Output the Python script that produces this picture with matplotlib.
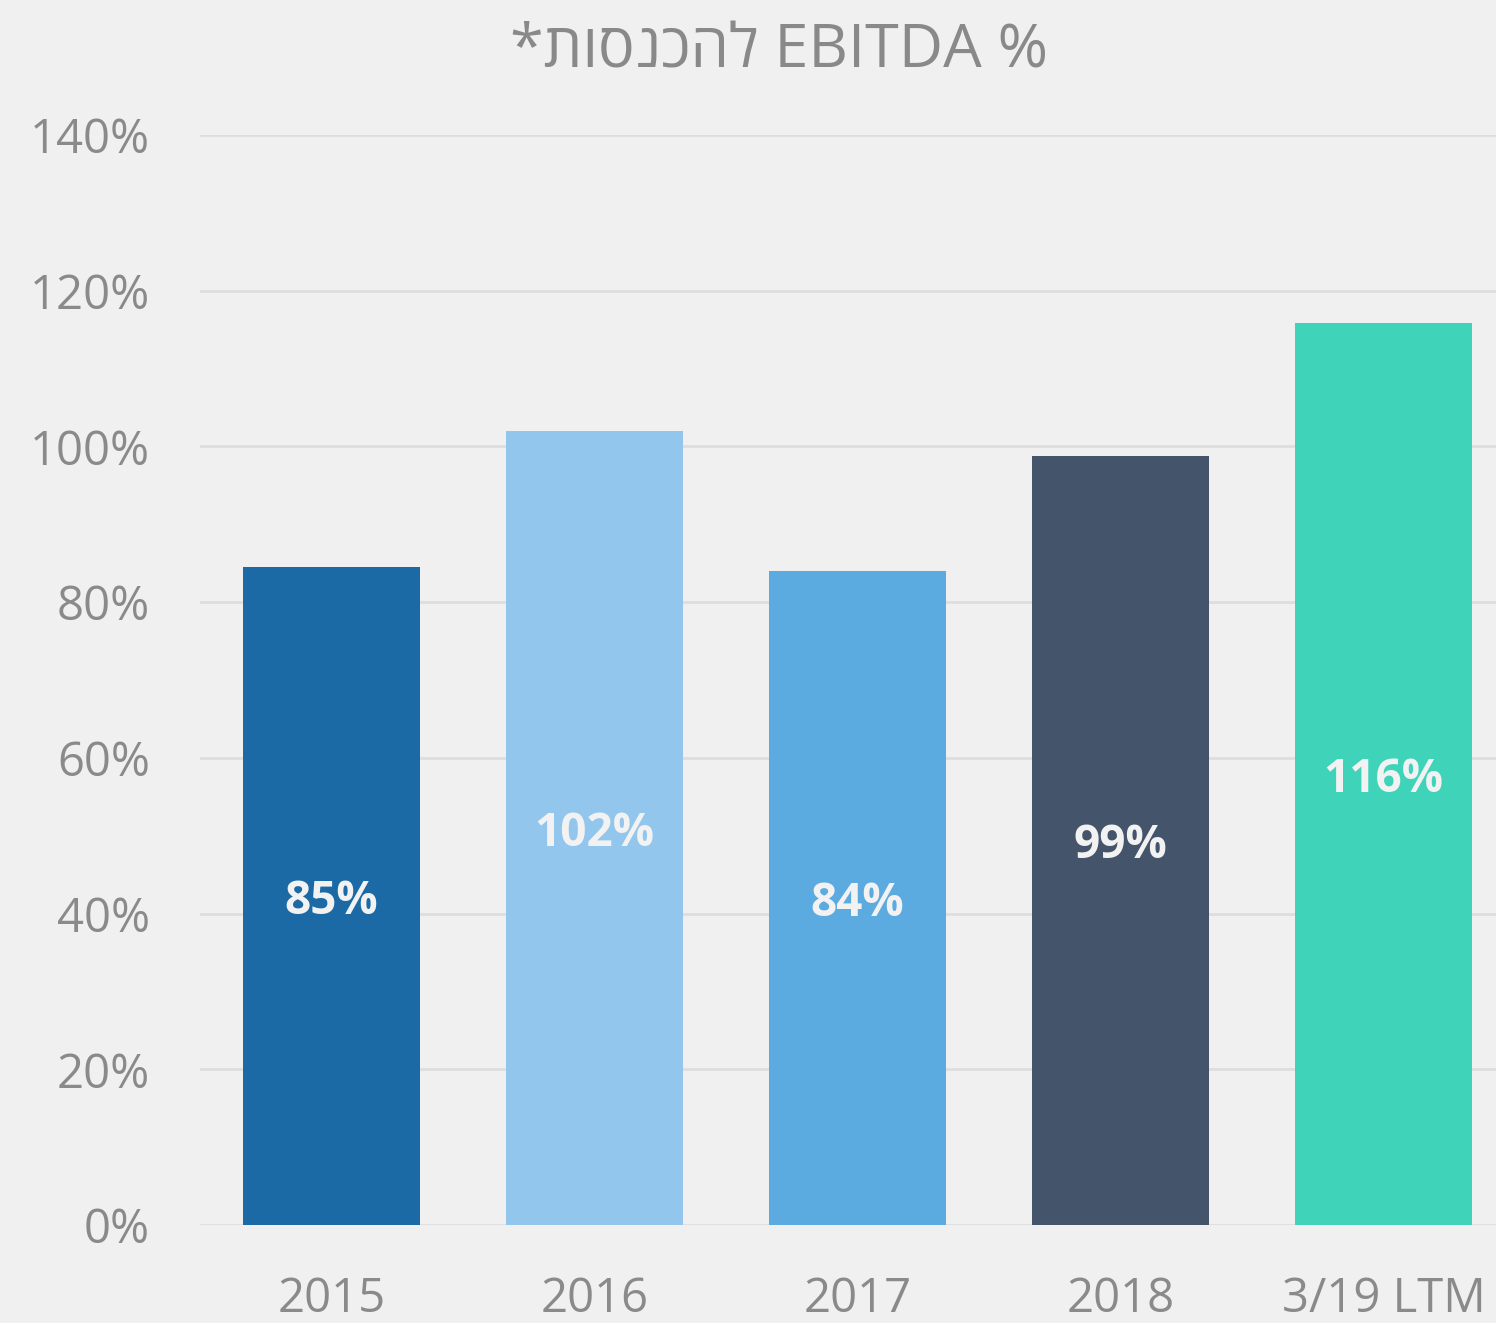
import matplotlib
matplotlib.use("Agg")
import matplotlib.pyplot as plt
from matplotlib.ticker import MultipleLocator, FuncFormatter

categories = ["2015", "2016", "2017", "2018", "3/19 LTM"]
values = [84.5, 102, 84, 98.8, 115.8]
labels = ["85%", "102%", "84%", "99%", "116%"]
colors = ["#1B6AA5", "#92C6EC", "#5BAAE0", "#44546A", "#3FD4B9"]
title_he = "להכנסות"
title = "*" + title_he[::-1] + " EBITDA %"

fam = ["Open Sans", "DejaVu Sans"]
plt.rcParams["font.family"] = fam

W, H = 1496, 1323
fig = plt.figure(figsize=(W / 100, H / 100), dpi=100, facecolor="#F0F0F0")
ax = fig.add_axes([200 / W, 1 - 1225 / H, (1496 - 200) / W, (1225 - 135) / H])
ax.set_facecolor("#F0F0F0")

x = list(range(len(categories)))
ax.bar(x, values, width=0.67, color=colors, zorder=3)
for xi, v, lab in zip(x, values, labels):
    ax.text(xi, v / 2, lab, ha="center", va="center_baseline", color="#F2F2F2",
            fontsize=33, fontweight="bold", zorder=4)

ax.set_ylim(0, 140)
ax.set_xlim(-0.5, 4.428)
ax.yaxis.set_major_locator(MultipleLocator(20))
ax.yaxis.set_major_formatter(FuncFormatter(lambda v, p: f"{int(v)}%"))
ax.grid(axis="y", color="#DEDEDE", linewidth=2, zorder=0)
ax.set_axisbelow(True)
for s in ax.spines.values():
    s.set_visible(False)
ax.tick_params(axis="both", length=0, labelsize=34, labelcolor="#8A8A8A")
ax.tick_params(axis="y", pad=36)
ax.tick_params(axis="x", pad=36)
ax.set_xticks(x)
ax.set_xticklabels(categories)

fig.text(779 / W, 1 - 51 / H, title, ha="center", va="center", fontsize=44,
         color="#898989", family=fam)

fig.savefig("out.png", dpi=100, facecolor="#F0F0F0")
